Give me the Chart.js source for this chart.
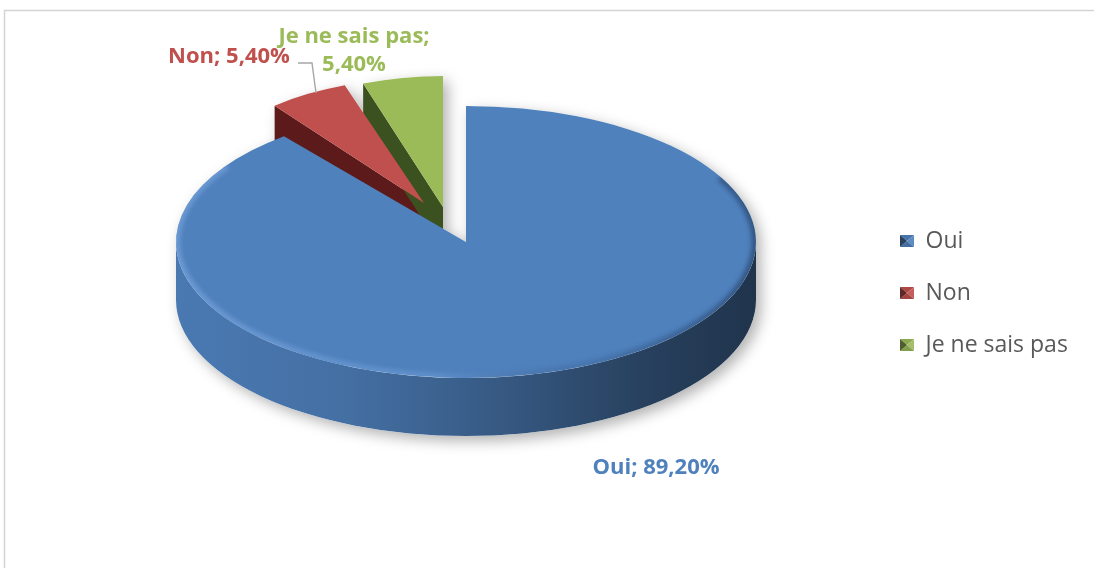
<!DOCTYPE html>
<html>
<head>
<meta charset="utf-8">
<script src="https://cdn.jsdelivr.net/npm/chart.js@4/dist/chart.umd.min.js"></script>
<style>
  html, body { margin: 0; padding: 0; background: #ffffff; overflow: hidden; }
  canvas { display: block; }
</style>
</head>
<body>
<canvas id="chart" width="1094" height="568"></canvas>
<script>
// Survey answers and their shares (%)
const categories = ['Oui', 'Non', 'Je ne sais pas'];
const shares = [89.2, 5.4, 5.4];
const sliceColors = ['#4f81bd', '#c0504d', '#9bbb59'];
const wallColors = ['#2f5583', '#5c1b1a', '#3b5220'];

// Screen placement of each slice of the tilted 3D pie (centre, radii, thickness)
const sliceViews = [
  { cx: 466, cy: 242, rx: 290, ry: 136, depth: 58 },
  { cx: 424, cy: 203, rx: 238, ry: 125, depth: 44 },
  { cx: 443, cy: 207, rx: 240, ry: 131, depth: 44 }
];

// Data label placement (centre of the text block)
const labelSpots = [
  { x: 656, y: 466, lines: 1 },
  { x: 229, y: 55, lines: 1 },
  { x: 354, y: 35, lines: 2, gap: 28 }
];
const leaderLine = [[298, 63], [312, 63], [316, 93]];

const FONT = "'Open Sans', 'Noto Sans', sans-serif";
const LEGEND_SIZE = 23;

function hexToRgb(hex) {
  const n = parseInt(hex.slice(1), 16);
  return [(n >> 16) & 255, (n >> 8) & 255, n & 255];
}
function mix(hex, other, t) {
  const a = hexToRgb(hex), b = hexToRgb(other);
  const c = a.map((v, i) => Math.round(v + (b[i] - v) * t));
  return `rgb(${c[0]},${c[1]},${c[2]})`;
}

// Small bevelled square used as legend marker
function bevelIcon(hex) {
  const w = 14, h = 12;
  const c = document.createElement('canvas');
  c.width = w; c.height = h;
  const g = c.getContext('2d');
  const m = [w / 2, h / 2];
  const faces = [
    [[0, 0], [w, 0], mix(hex, '#000000', 0.1)],
    [[w, 0], [w, h], mix(hex, '#ffffff', 0.08)],
    [[w, h], [0, h], mix(hex, '#000000', 0.15)],
    [[0, h], [0, 0], mix(hex, '#000000', 0.5)]
  ];
  faces.forEach(([p, q, col]) => {
    g.beginPath();
    g.moveTo(p[0], p[1]); g.lineTo(q[0], q[1]); g.lineTo(m[0], m[1]);
    g.closePath();
    g.fillStyle = col;
    g.fill();
  });
  return c;
}
const legendIcons = sliceColors.map(bevelIcon);

function shareText(v) {
  return v.toFixed(2).replace('.', ',') + '%';
}

// ---- 3D pie drawing helpers ----
function point(v, th, dz) {
  return [v.cx + v.rx * Math.cos(th), v.cy + v.ry * Math.sin(th) + (dz || 0)];
}
function frontSpans(s, e) {
  const spans = [];
  for (let k = -1; k <= 1; k++) {
    const lo = Math.max(s, 2 * Math.PI * k);
    const hi = Math.min(e, 2 * Math.PI * k + Math.PI);
    if (hi > lo) spans.push([lo, hi]);
  }
  return spans;
}
function outerWallPath(ctx, v, a0, a1) {
  ctx.beginPath();
  ctx.ellipse(v.cx, v.cy, v.rx, v.ry, 0, a0, a1, false);
  ctx.ellipse(v.cx, v.cy + v.depth, v.rx, v.ry, 0, a1, a0, true);
  ctx.closePath();
}
function radialWallPath(ctx, v, th) {
  const [x1, y1] = point(v, th);
  ctx.beginPath();
  ctx.moveTo(v.cx, v.cy);
  ctx.lineTo(x1, y1);
  ctx.lineTo(x1, y1 + v.depth);
  ctx.lineTo(v.cx, v.cy + v.depth);
  ctx.closePath();
}
function topPath(ctx, v, s, e, dz) {
  ctx.beginPath();
  ctx.moveTo(v.cx, v.cy + (dz || 0));
  ctx.ellipse(v.cx, v.cy + (dz || 0), v.rx, v.ry, 0, s, e, false);
  ctx.closePath();
}
function drawArcTop(ctx, arc, v) {
  const R = arc.outerRadius;
  ctx.save();
  ctx.translate(v.cx, v.cy);
  ctx.scale(v.rx / R, v.ry / R);
  ctx.translate(-arc.x, -arc.y);
  arc.draw(ctx);
  ctx.restore();
}

const pie3d = {
  id: 'pie3d',
  beforeDatasetsDraw(chart) {
    const ctx = chart.ctx;
    const arcs = chart.getDatasetMeta(0).data;

    // soft drop shadow under the whole pie
    const off = document.createElement('canvas');
    off.width = chart.width; off.height = chart.height;
    const o = off.getContext('2d');
    o.fillStyle = '#000';
    arcs.forEach((arc, i) => {
      const v = sliceViews[i];
      topPath(o, v, arc.startAngle, arc.endAngle, 0); o.fill();
      topPath(o, v, arc.startAngle, arc.endAngle, v.depth); o.fill();
      frontSpans(arc.startAngle, arc.endAngle).forEach(([a, b]) => { outerWallPath(o, v, a, b); o.fill(); });
      radialWallPath(o, v, arc.startAngle); o.fill();
      radialWallPath(o, v, arc.endAngle); o.fill();
    });
    ctx.save();
    ctx.globalAlpha = 0.3;
    ctx.filter = 'blur(7px)';
    ctx.drawImage(off, 5, 5);
    ctx.restore();
    ctx.save();
    ctx.globalCompositeOperation = 'destination-out';
    ctx.drawImage(off, 0, 0);
    ctx.restore();

    // cut faces of the slices that face the viewer
    arcs.forEach((arc, i) => {
      const v = sliceViews[i];
      [[arc.startAngle, -1], [arc.endAngle, 1]].forEach(([th, side]) => {
        if (side * Math.cos(th) > 1e-3) {
          radialWallPath(ctx, v, th);
          ctx.fillStyle = wallColors[i];
          ctx.fill();
        }
      });
    });

    // rounded outer side
    arcs.forEach((arc, i) => {
      const v = sliceViews[i];
      frontSpans(arc.startAngle, arc.endAngle).forEach(([a, b]) => {
        const grad = ctx.createLinearGradient(v.cx - v.rx, 0, v.cx + v.rx, 0);
        const base = sliceColors[i];
        grad.addColorStop(0, mix(base, '#000000', 0.06));
        grad.addColorStop(0.3, mix(base, '#000000', 0.14));
        grad.addColorStop(0.55, mix(base, '#000000', 0.3));
        grad.addColorStop(0.8, mix(base, '#000000', 0.5));
        grad.addColorStop(1, mix(base, '#000000', 0.6));
        outerWallPath(ctx, v, a, b);
        ctx.fillStyle = grad;
        ctx.fill();
      });
    });

    // top faces, drawn by the arc elements themselves
    arcs.forEach((arc, i) => drawArcTop(ctx, arc, sliceViews[i]));

    // bevel along the front rim of the top face
    arcs.forEach((arc, i) => {
      if (!frontSpans(arc.startAngle, arc.endAngle).length) return;
      const v = sliceViews[i];
      ctx.save();
      topPath(ctx, v, arc.startAngle, arc.endAngle, 0);
      ctx.clip();
      const grad = ctx.createLinearGradient(v.cx - v.rx, 0, v.cx + v.rx, 0);
      grad.addColorStop(0, 'rgba(140,180,235,0.45)');
      grad.addColorStop(0.45, 'rgba(130,175,230,0.3)');
      grad.addColorStop(0.7, 'rgba(20,40,70,0.12)');
      grad.addColorStop(1, 'rgba(10,25,50,0.4)');
      ctx.filter = 'blur(2px)';
      ctx.lineWidth = 9;
      ctx.strokeStyle = grad;
      ctx.beginPath();
      ctx.ellipse(v.cx, v.cy, v.rx, v.ry, 0, Math.max(arc.startAngle, -0.5), Math.min(arc.endAngle, Math.PI + 0.6));
      ctx.stroke();
      ctx.restore();
    });
    return false;
  }
};

const frame = {
  id: 'frame',
  beforeDraw(chart) {
    const ctx = chart.ctx;
    ctx.save();
    ctx.strokeStyle = '#d4d4d4';
    ctx.lineWidth = 1.5;
    ctx.beginPath();
    ctx.moveTo(4.5, chart.height + 2);
    ctx.lineTo(4.5, 10.5);
    ctx.lineTo(chart.width + 2, 10.5);
    ctx.stroke();
    ctx.restore();
  }
};

const dataLabels = {
  id: 'dataLabels',
  afterDraw(chart) {
    const ctx = chart.ctx;
    ctx.save();
    // leader line for the "Non" label
    ctx.strokeStyle = '#a6a6a6';
    ctx.lineWidth = 1.4;
    ctx.beginPath();
    leaderLine.forEach(([x, y], k) => (k ? ctx.lineTo(x, y) : ctx.moveTo(x, y)));
    ctx.stroke();

    ctx.font = `bold 22px ${FONT}`;
    ctx.textAlign = 'center';
    ctx.textBaseline = 'alphabetic';
    categories.forEach((name, i) => {
      const s = labelSpots[i];
      ctx.fillStyle = sliceColors[i];
      const capHalf = 8;
      if (s.lines === 2) {
        ctx.fillText(name + ';', s.x, s.y + capHalf);
        ctx.fillText(shareText(shares[i]), s.x, s.y + s.gap + capHalf);
      } else {
        ctx.fillText(`${name}; ${shareText(shares[i])}`, s.x, s.y + capHalf);
      }
    });
    ctx.restore();
  }
};

// Reserve room on the right so the legend markers start at x = 900
const measure = document.createElement('canvas').getContext('2d');
measure.font = `${LEGEND_SIZE}px ${FONT}`;
const widestLabel = Math.max(...categories.map(c => measure.measureText(c).width));
const legendRight = Math.max(0, 1094 - 910 - (14 + LEGEND_SIZE / 2 + widestLabel));

new Chart(document.getElementById('chart'), {
  type: 'pie',
  data: {
    labels: categories,
    datasets: [{
      data: shares,
      backgroundColor: sliceColors,
      borderWidth: 0
    }]
  },
  options: {
    responsive: false,
    animation: false,
    events: [],
    layout: { padding: { top: 18, right: legendRight } },
    plugins: {
      tooltip: { enabled: false },
      legend: {
        position: 'right',
        align: 'center',
        labels: {
          usePointStyle: true,
          boxWidth: 14,
          boxHeight: 12,
          padding: 29,
          color: '#595959',
          font: { family: FONT, size: LEGEND_SIZE },
          generateLabels: () => categories.map((name, i) => ({
            text: name,
            pointStyle: legendIcons[i],
            fillStyle: sliceColors[i],
            strokeStyle: sliceColors[i],
            lineWidth: 0,
            fontColor: '#595959',
            hidden: false,
            index: i,
            datasetIndex: 0
          }))
        }
      }
    }
  },
  plugins: [frame, pie3d, dataLabels]
});
</script>
</body>
</html>
